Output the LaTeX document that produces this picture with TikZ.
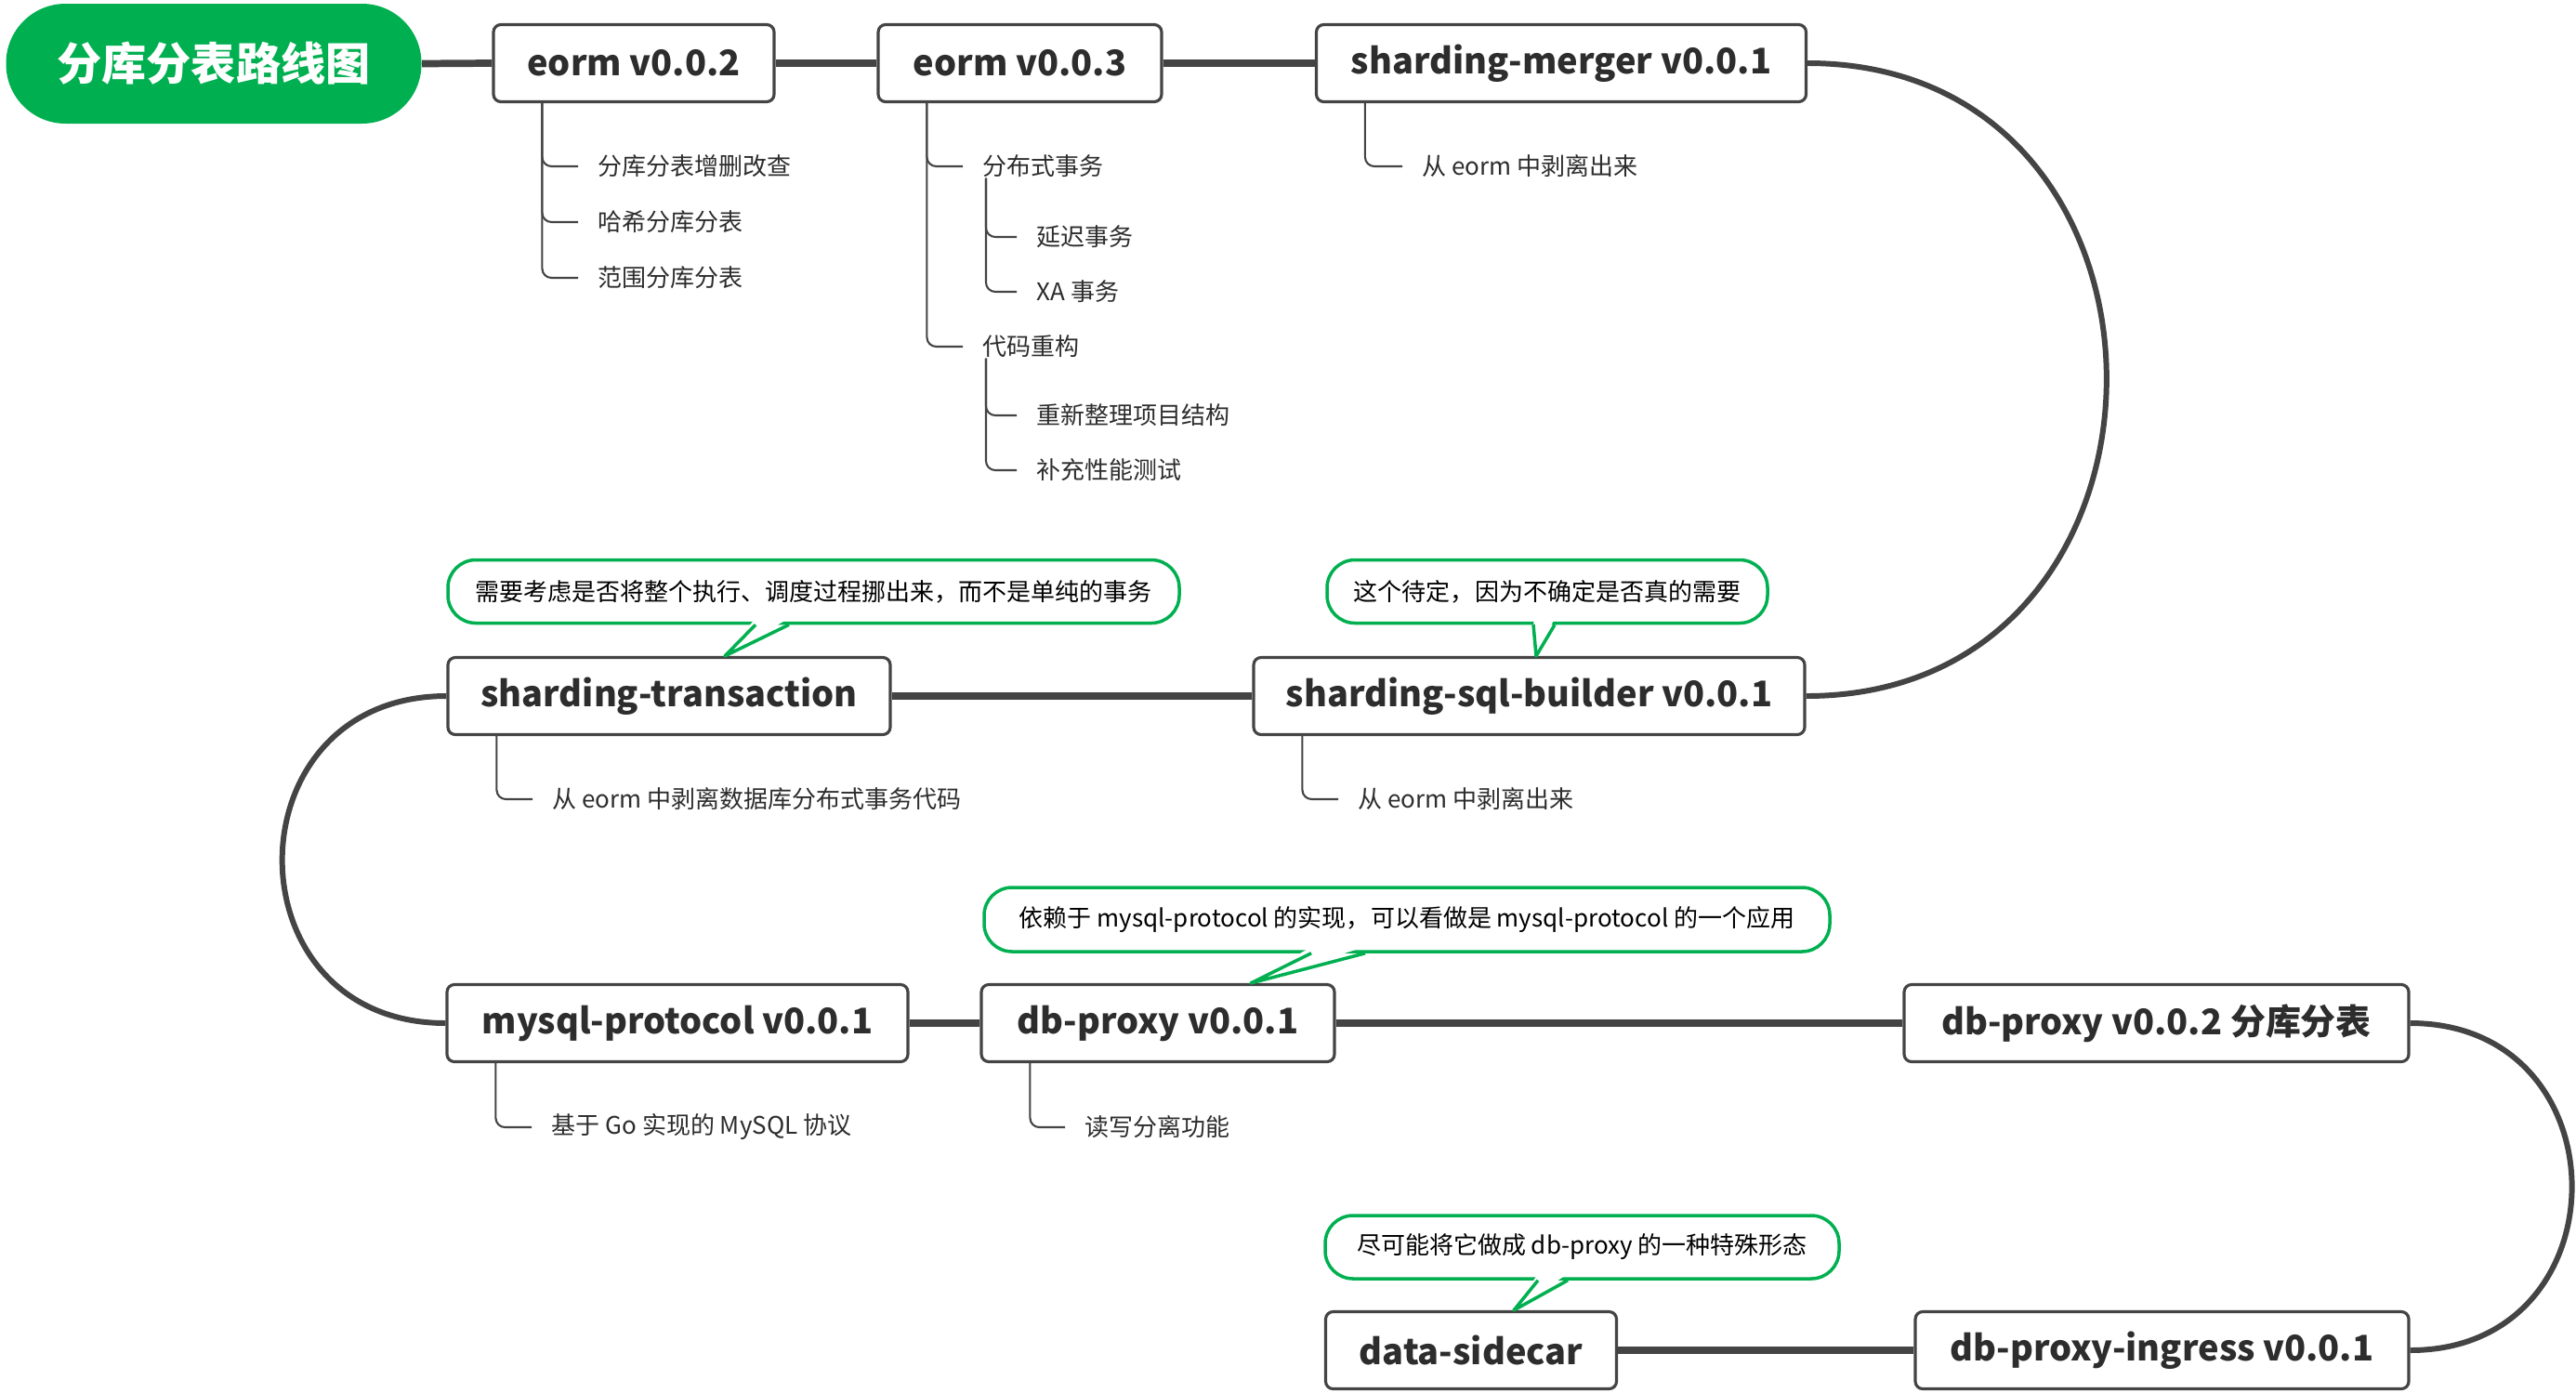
\documentclass[tikz,border=0pt]{standalone}
\usepackage{fontspec}
\setmainfont{Noto Sans CJK SC}
\definecolor{mapgreen}{RGB}{0,176,80}
\definecolor{mapgray}{RGB}{68,68,68}
\definecolor{maptext}{RGB}{45,45,45}
\begin{document}
\begin{tikzpicture}[
  box/.style={draw=mapgray, line width=0.9pt, fill=white, rounded corners=0.08cm, minimum height=0.83cm, inner sep=0, text=maptext, font=\fontsize{10.8pt}{13pt}\selectfont\bfseries},
  leaf/.style={anchor=west, inner sep=0, text=maptext, font=\fontsize{7.4pt}{9pt}\selectfont},
  callout/.style={draw=mapgreen, line width=1pt, fill=white, rounded corners=0.3cm, minimum height=0.68cm, inner sep=0, text=black, font=\fontsize{7.4pt}{9pt}\selectfont},
  trunk/.style={draw=mapgray, line width=2.2pt},
  swing/.style={draw=mapgray, line width=1.7pt},
  twig/.style={draw=mapgray, line width=0.6pt, rounded corners=0.1cm},
  pointer/.style={draw=mapgreen, line width=1pt, line join=round}
]
\useasboundingbox (0, 0) rectangle (27.72, -14.98);
\fill [color=white] (0, 0) rectangle (27.72, -14.98);

\node (title) at (2.30, -0.685) [fill=mapgreen, rounded corners=0.64cm, minimum width=4.47cm, minimum height=1.29cm, text=white, font=\fontsize{13.7pt}{16pt}\selectfont\bfseries] {分库分表路线图};
\node (eormA) at (6.82, -0.68) [box, minimum width=3.02cm] {eorm v0.0.2};
\node (eormB) at (10.975, -0.68) [box, minimum width=3.05cm] {eorm v0.0.3};
\node (merger) at (16.80, -0.68) [box, minimum width=5.27cm] {sharding-merger v0.0.1};
\node (trans) at (7.20, -7.49) [box, minimum width=4.76cm] {sharding-transaction};
\node (builder) at (16.455, -7.49) [box, minimum width=5.93cm] {sharding-sql-builder v0.0.1};
\node (mysql) at (7.29, -11.01) [box, minimum width=4.96cm] {mysql-protocol v0.0.1};
\node (proxyA) at (12.46, -11.01) [box, minimum width=3.80cm] {db-proxy v0.0.1};
\node (proxyB) at (23.205, -11.01) [box, minimum width=5.43cm] {db-proxy v0.0.2 分库分表};
\node (sidecar) at (15.83, -14.53) [box, minimum width=3.13cm] {data-sidecar};
\node (ingress) at (23.265, -14.53) [box, minimum width=5.31cm] {db-proxy-ingress v0.0.1};

\draw [trunk] (title.east) -- (eormA.west);
\draw [trunk] (eormA.east) -- (eormB.west);
\draw [trunk] (eormB.east) -- (merger.west);
\draw [swing] (merger.east) .. controls +(4.3, 0) and +(4.3, 0) .. (builder.east);
\draw [trunk] (builder.west) -- (trans.east);
\draw [swing] (trans.west) .. controls +(-2.35, 0) and +(-2.35, 0) .. (mysql.west);
\draw [trunk] (mysql.east) -- (proxyA.west);
\draw [trunk] (proxyA.east) -- (proxyB.west);
\draw [swing] (proxyB.east) .. controls +(2.32, 0) and +(2.32, 0) .. (ingress.east);
\draw [trunk] (ingress.west) -- (sidecar.east);

\newcommand\stemoff{0.54cm}
\newcommand\gapoff{0.21cm}
\node (crud) at (6.43, -1.79) [leaf] {分库分表增删改查};
\node (hash) at (6.43, -2.39) [leaf] {哈希分库分表};
\node (range) at (6.43, -2.99) [leaf] {范围分库分表};
\draw [twig] ([xshift=\stemoff]eormA.south west) |- ([xshift=-\gapoff]crud.west);
\draw [twig] ([xshift=\stemoff]eormA.south west) |- ([xshift=-\gapoff]hash.west);
\draw [twig] ([xshift=\stemoff]eormA.south west) |- ([xshift=-\gapoff]range.west);

\node (dist) at (10.57, -1.79) [leaf] {分布式事务};
\node (delay) at (11.15, -2.55) [leaf] {延迟事务};
\node (xa) at (11.15, -3.14) [leaf] {XA 事务};
\node (refac) at (10.57, -3.73) [leaf] {代码重构};
\node (layout) at (11.15, -4.47) [leaf] {重新整理项目结构};
\node (bench) at (11.15, -5.06) [leaf] {补充性能测试};
\draw [twig] ([xshift=\stemoff]eormB.south west) |- ([xshift=-\gapoff]dist.west);
\draw [twig] ([xshift=\stemoff]eormB.south west) |- ([xshift=-\gapoff]refac.west);
\draw [twig] ([xshift=0.04cm]dist.south west) |- ([xshift=-\gapoff]delay.west);
\draw [twig] ([xshift=0.04cm]dist.south west) |- ([xshift=-\gapoff]xa.west);
\draw [twig] ([xshift=0.04cm]refac.south west) |- ([xshift=-\gapoff]layout.west);
\draw [twig] ([xshift=0.04cm]refac.south west) |- ([xshift=-\gapoff]bench.west);

\node (mergerNote) at (15.30, -1.79) [leaf] {从 eorm 中剥离出来};
\draw [twig] ([xshift=\stemoff]merger.south west) |- ([xshift=-\gapoff]mergerNote.west);
\node (transNote) at (5.94, -8.60) [leaf] {从 eorm 中剥离数据库分布式事务代码};
\draw [twig] ([xshift=\stemoff]trans.south west) |- ([xshift=-\gapoff]transNote.west);
\node (builderNote) at (14.61, -8.60) [leaf] {从 eorm 中剥离出来};
\draw [twig] ([xshift=\stemoff]builder.south west) |- ([xshift=-\gapoff]builderNote.west);
\node (mysqlNote) at (5.93, -12.13) [leaf] {基于 Go 实现的 MySQL 协议};
\draw [twig] ([xshift=\stemoff]mysql.south west) |- ([xshift=-\gapoff]mysqlNote.west);
\node (proxyNote) at (11.67, -12.13) [leaf] {读写分离功能};
\draw [twig] ([xshift=\stemoff]proxyA.south west) |- ([xshift=-\gapoff]proxyNote.west);

\node (askA) at (8.755, -6.365) [callout, minimum width=7.87cm] {需要考虑是否将整个执行、调度过程挪出来，而不是单纯的事务};
\fill [white] ([xshift=-0.625cm, yshift=2pt]askA.south) -- ([xshift=0.60cm]trans.north) -- ([xshift=-0.265cm, yshift=2pt]askA.south) -- cycle;
\draw [pointer] ([xshift=-0.625cm]askA.south) -- ([xshift=0.60cm]trans.north) -- ([xshift=-0.265cm]askA.south);
\node (askB) at (16.65, -6.365) [callout, minimum width=4.74cm] {这个待定，因为不确定是否真的需要};
\fill [white] ([xshift=-0.15cm, yshift=2pt]askB.south) -- ([xshift=0.075cm]builder.north) -- ([xshift=0.08cm, yshift=2pt]askB.south) -- cycle;
\draw [pointer] ([xshift=-0.15cm]askB.south) -- ([xshift=0.075cm]builder.north) -- ([xshift=0.08cm]askB.south);
\node (askC) at (15.14, -9.895) [callout, minimum width=9.10cm, minimum height=0.69cm] {依赖于 mysql-protocol 的实现，可以看做是 mysql-protocol 的一个应用};
\fill [white] ([xshift=-1.03cm, yshift=2pt]askC.south) -- ([xshift=1.00cm]proxyA.north) -- ([xshift=-0.45cm, yshift=2pt]askC.south) -- cycle;
\draw [pointer] ([xshift=-1.03cm]askC.south) -- ([xshift=1.00cm]proxyA.north) -- ([xshift=-0.45cm]askC.south);
\node (askD) at (17.025, -13.42) [callout, minimum width=5.53cm] {尽可能将它做成 db-proxy 的一种特殊形态};
\fill [white] ([xshift=-0.475cm, yshift=2pt]askD.south) -- ([xshift=0.46cm]sidecar.north) -- ([xshift=-0.155cm, yshift=2pt]askD.south) -- cycle;
\draw [pointer] ([xshift=-0.475cm]askD.south) -- ([xshift=0.46cm]sidecar.north) -- ([xshift=-0.155cm]askD.south);
\end{tikzpicture}
\end{document}
